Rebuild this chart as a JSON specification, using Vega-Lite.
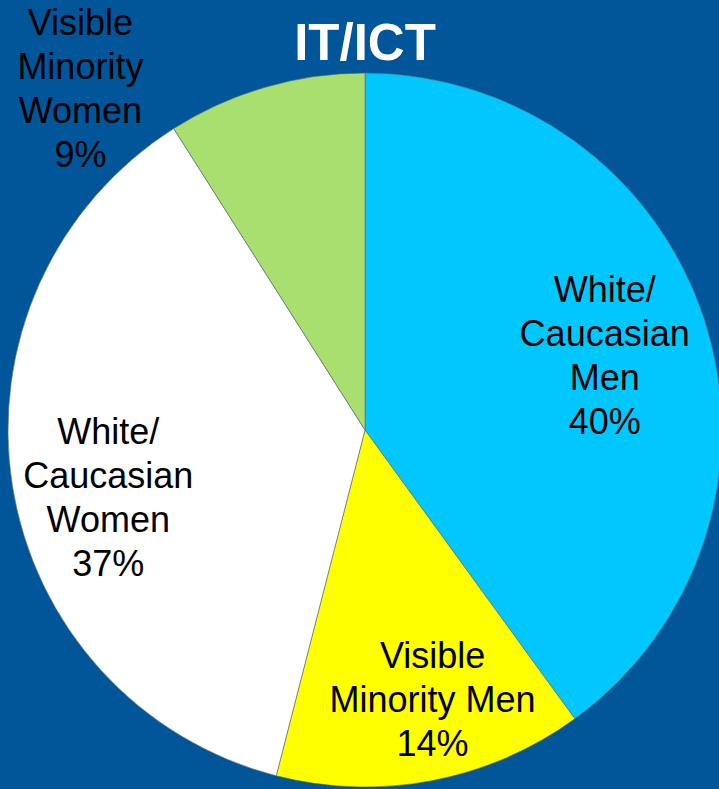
{
  "$schema": "https://vega.github.io/schema/vega-lite/v6.json",
  "autosize": {"type": "none"},
  "width": 714,
  "height": 714,
  "padding": {"left": 8, "top": 73, "right": 0, "bottom": 2},
  "background": "#01569A",
  "config": {"view": {"stroke": null}},
  "title": {
    "text": "IT/ICT",
    "font": "Liberation Sans",
    "fontSize": 51,
    "fontWeight": "bold",
    "color": "white",
    "anchor": "middle",
    "frame": "group",
    "baseline": "alphabetic",
    "offset": 0,
    "dy": 105
  },
  "data": {
    "values": [
      {"idx": 1, "cat": "White/Caucasian Men", "label": "White/\nCaucasian\nMen\n40%", "pct": 40},
      {"idx": 2, "cat": "Visible Minority Men", "label": "Visible\nMinority Men\n14%", "pct": 14},
      {"idx": 3, "cat": "White/Caucasian Women", "label": "White/\nCaucasian\nWomen\n37%", "pct": 37},
      {"idx": 4, "cat": "Visible Minority Women", "label": "Visible\nMinority\nWomen\n9%", "pct": 9}
    ]
  },
  "encoding": {
    "theta": {"field": "pct", "type": "quantitative", "stack": true},
    "order": {"field": "idx", "type": "quantitative"}
  },
  "layer": [
    {
      "mark": {"type": "arc", "stroke": "#5a6a70", "strokeWidth": 0.6},
      "encoding": {
        "color": {
          "field": "cat",
          "type": "nominal",
          "scale": {
            "domain": ["White/Caucasian Men", "Visible Minority Men", "White/Caucasian Women", "Visible Minority Women"],
            "range": ["#00C8FF", "#FFFF00", "#FFFFFF", "#A9DF6F"]
          },
          "legend": null
        }
      }
    },
    {
      "mark": {"type": "text", "radius": 252, "dy": -61, "font": "Liberation Sans", "fontSize": 36, "lineHeight": 44, "lineBreak": "\n", "align": "center", "baseline": "middle", "color": "black"},
      "encoding": {
        "text": {"condition": {"test": "datum.idx === 1", "field": "label"}, "value": ""}
      }
    },
    {
      "mark": {"type": "text", "radius": 270, "dx": 17, "dy": -38, "font": "Liberation Sans", "fontSize": 36, "lineHeight": 44, "lineBreak": "\n", "align": "center", "baseline": "middle", "color": "black"},
      "encoding": {
        "text": {"condition": {"test": "datum.idx === 2", "field": "label"}, "value": ""}
      }
    },
    {
      "mark": {"type": "text", "radius": 265, "dx": 5, "dy": -38, "font": "Liberation Sans", "fontSize": 36, "lineHeight": 44, "lineBreak": "\n", "align": "center", "baseline": "middle", "color": "black"},
      "encoding": {
        "text": {"condition": {"test": "datum.idx === 3", "field": "label"}, "value": ""}
      }
    },
    {
      "mark": {"type": "text", "radius": 357, "dx": -185, "dy": -63, "font": "Liberation Sans", "fontSize": 36, "lineHeight": 44, "lineBreak": "\n", "align": "center", "baseline": "middle", "color": "black"},
      "encoding": {
        "text": {"condition": {"test": "datum.idx === 4", "field": "label"}, "value": ""}
      }
    }
  ]
}
